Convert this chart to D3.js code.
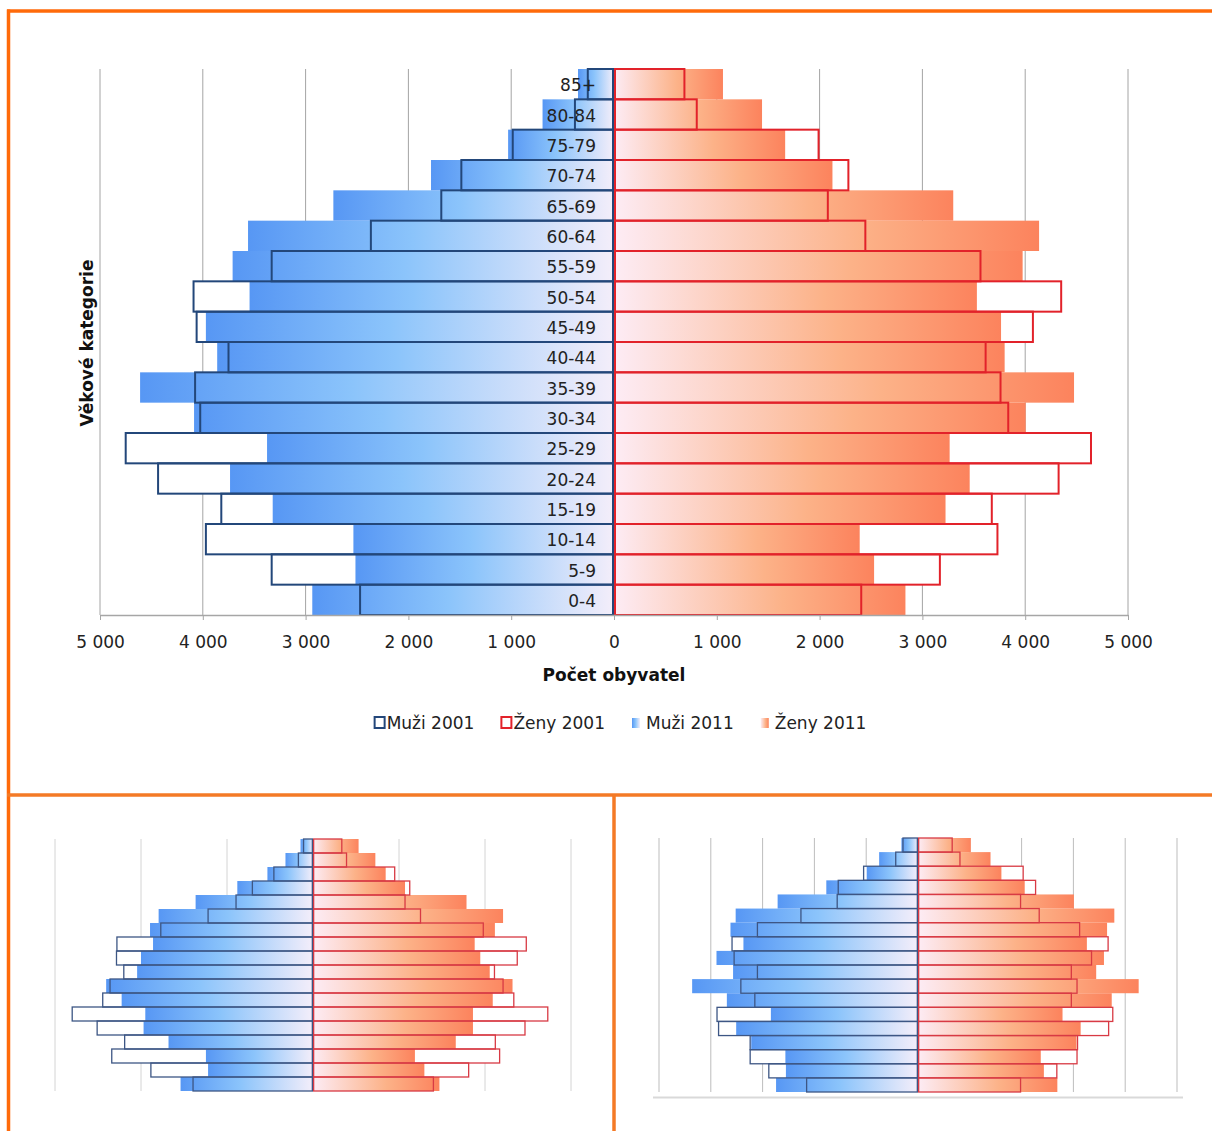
<!DOCTYPE html>
<html><head><meta charset="utf-8">
<script src="https://cdn.jsdelivr.net/npm/d3@7"></script>
<style>body{margin:0;background:#fff}svg{display:block}</style>
</head><body><svg id="c" width="1212" height="1131"></svg>
<script>
// ---------- DATA (listed from the youngest group 0-4 up to 85+) ----------
const ageGroups = ["0-4","5-9","10-14","15-19","20-24","25-29","30-34","35-39","40-44","45-49","50-54","55-59","60-64","65-69","70-74","75-79","80-84","85+"];
const tickValues = [-5000,-4000,-3000,-2000,-1000,0,1000,2000,3000,4000,5000];

// main chart
const men2001   = [2470,3330,3970,3820,4435,4750,4025,4075,3750,4060,4090,3330,2365,1680,1485,985,380,255];
const men2011   = [2935,2515,2535,3320,3735,3375,4085,4610,3860,3970,3545,3710,3560,2730,1780,1030,695,350];
const women2001 = [2405,3170,3730,3675,4325,4640,3835,3760,3615,4075,4350,3565,2445,2080,2280,1990,805,685];
const women2011 = [2835,2530,2390,3225,3460,3265,4005,4475,3800,3765,3530,3975,4135,3300,2125,1665,1440,1060];

// small left chart
const menA2001   = [1395,1885,2340,2190,2510,2800,2445,2360,2200,2285,2280,1770,1220,895,705,455,170,110];
const menA2011   = [1540,1220,1245,1680,1970,1950,2225,2405,2045,2000,1860,1895,1795,1365,880,530,320,145];
const womenA2001 = [1400,1810,2170,2120,2465,2730,2335,2210,2110,2375,2480,1980,1250,1070,1125,950,390,335];
const womenA2011 = [1470,1295,1185,1660,1860,1860,2090,2320,2055,1945,1880,2115,2210,1785,1070,845,725,530];
const ticksA = [-3000,-2000,-1000,0,1000,2000,3000];

// small right chart
const menB2001   = [215,288,324,324,385,388,315,342,310,355,359,310,226,156,154,105,43,29];
const menB2011   = [274,255,256,322,351,284,369,436,357,389,337,362,352,271,177,99,75,32];
const womenB2001 = [198,268,307,308,368,376,296,307,296,335,367,312,234,198,227,203,81,66];
const womenB2011 = [269,243,237,306,314,279,374,426,344,359,326,365,379,301,206,161,140,102];
const ticksB = [-500,-400,-300,-200,-100,0,100,200,300,400,500];

const legendLabels = ["Muži 2001","Ženy 2001","Muži 2011","Ženy 2011"];
const axisTitleX = "Počet obyvatel";
const axisTitleY = "Věkové kategorie";

// ---------- DRAWING ----------
const svg = d3.select("#c");
const FONT = "'DejaVu Sans', Verdana, sans-serif";
const defs = svg.append("defs");
const gM = defs.append("linearGradient").attr("id","gM").attr("x1",0).attr("x2",1).attr("y1",0).attr("y2",0);
[[0,"#5797f4"],[0.45,"#8bc4fb"],[1,"#f4eefa"]].forEach(s=>gM.append("stop").attr("offset",s[0]).attr("stop-color",s[1]));
const gF = defs.append("linearGradient").attr("id","gF").attr("x1",0).attr("x2",1).attr("y1",0).attr("y2",0);
[[0,"#fdecf5"],[0.58,"#fcb288"],[1,"#fc835d"]].forEach(s=>gF.append("stop").attr("offset",s[0]).attr("stop-color",s[1]));

const fmt = d3.formatLocale({decimal:",", thousands:"\u00a0", grouping:[3], currency:["","\u00a0Kč"]}).format(",d");

function pyramid(g, o) {
  const x = o.x, y = o.y, x0 = x(0);
  const rows = ageGroups.map((a,i)=>({a, m01:o.m01[i], m11:o.m11[i], f01:o.f01[i], f11:o.f11[i]}));
  // gridlines
  g.append("g").selectAll("line").data(o.ticks).join("line")
    .attr("x1",d=>x(d)).attr("x2",d=>x(d))
    .attr("y1",y.range()[0]).attr("y2",y.range()[1])
    .attr("stroke",o.grid).attr("stroke-width",1);
  // 2001 white backgrounds
  const bg = g.append("g");
  bg.selectAll(".mw").data(rows).join("rect")
    .attr("x",d=>x(-d.m01)).attr("width",d=>x0-x(-d.m01))
    .attr("y",d=>y(d.a)).attr("height",y.bandwidth()).attr("fill","#fff");
  bg.selectAll(".fw").data(rows).join("rect")
    .attr("x",x0).attr("width",d=>x(d.f01)-x0)
    .attr("y",d=>y(d.a)).attr("height",y.bandwidth()).attr("fill","#fff");
  // 2011 gradient bars
  const b11 = g.append("g");
  b11.selectAll(".m").data(rows).join("rect")
    .attr("x",d=>x(-d.m11)).attr("width",d=>x0-x(-d.m11))
    .attr("y",d=>y(d.a)).attr("height",y.bandwidth()).attr("fill","url(#gM)");
  b11.selectAll(".f").data(rows).join("rect")
    .attr("x",x0).attr("width",d=>x(d.f11)-x0)
    .attr("y",d=>y(d.a)).attr("height",y.bandwidth()).attr("fill","url(#gF)");
  // 2001 outlines
  const h = o.sw/2;
  const ol = g.append("g").attr("fill","none");
  ol.selectAll(".mo").data(rows).join("rect")
    .attr("x",d=>x(-d.m01)).attr("width",d=>x0-h-x(-d.m01))
    .attr("y",d=>y(d.a)).attr("height",y.bandwidth())
    .attr("stroke",o.navy).attr("stroke-width",o.sw);
  ol.selectAll(".fo").data(rows).join("rect")
    .attr("x",x0+h).attr("width",d=>x(d.f01)-x0-h)
    .attr("y",d=>y(d.a)).attr("height",y.bandwidth())
    .attr("stroke",o.red).attr("stroke-width",o.sw);
  return rows;
}

// main chart
const xMain = d3.scaleLinear().domain([-5000,5000]).range([100,1128]);
const yMain = d3.scaleBand().domain(ageGroups.slice().reverse()).range([69,615]).padding(0);
const gMain = svg.append("g");
pyramid(gMain, {x:xMain, y:yMain, m01:men2001, m11:men2011, f01:women2001, f11:women2011,
  ticks:tickValues, grid:"#a4a4a4", sw:2, navy:"#23477a", red:"#e2222a"});

// category labels
gMain.append("g").selectAll("text").data(ageGroups).join("text")
  .attr("x",596).attr("y",d=>yMain(d)+yMain.bandwidth()/2+1).attr("dy","0.36em")
  .attr("text-anchor","end").attr("font-family",FONT).attr("font-size",17).attr("fill","#222")
  .text(d=>d);

// x axis
const ax = gMain.append("g").attr("transform","translate(0,615)")
  .call(d3.axisBottom(xMain).tickValues(tickValues).tickSize(5).tickSizeOuter(0).tickPadding(16)
    .tickFormat(d=>fmt(Math.abs(d))));
ax.select(".domain").attr("stroke","#a6a6a6").attr("stroke-width",1.5);
ax.selectAll(".tick line").attr("stroke","#a6a6a6");
ax.selectAll(".tick text").attr("font-family",FONT).attr("font-size",17).attr("fill","#222");

// axis titles
svg.append("text").attr("x",614).attr("y",681).attr("text-anchor","middle")
  .attr("font-family",FONT).attr("font-weight","bold").attr("font-size",17).attr("fill","#111").text(axisTitleX);
svg.append("text").attr("transform","translate(93,343) rotate(-90)").attr("text-anchor","middle")
  .attr("font-family",FONT).attr("font-weight","bold").attr("font-size",17).attr("fill","#111").text(axisTitleY);

// legend
const lg = svg.append("g");
const items = legendLabels.map((t,i)=>({t, i}));
let cx = 0;
const lgItems = lg.selectAll("g").data(items).join("g");
lgItems.each(function(d){
  const s = d3.select(this);
  if (d.i < 2) {
    s.append("rect").attr("x",1).attr("y",-6).attr("width",10).attr("height",11)
      .attr("fill","#fff").attr("stroke",d.i===0?"#23477a":"#e2222a").attr("stroke-width",2);
  } else {
    s.append("rect").attr("x",1).attr("y",-5).attr("width",8).attr("height",10)
      .attr("fill",d.i===2?"url(#gM)":"url(#gF)");
  }
  const tx = d.i < 2 ? 13 : 15;
  const t = s.append("text").attr("x",tx).attr("y",0).attr("dy","0.36em")
    .attr("font-family",FONT).attr("font-size",17).attr("fill","#222").text(d.t);
  d.w = tx + t.node().getComputedTextLength();
});
items.forEach(d=>{d.x = cx; cx += d.w + 26;});
const total = cx - 26;
lgItems.attr("transform",d=>`translate(${620 - total/2 + d.x},723)`);

// small left
const xA = d3.scaleLinear().domain([-3000,3000]).range([55,571]);
const yA = d3.scaleBand().domain(ageGroups.slice().reverse()).range([839,1091]).padding(0);
pyramid(svg.append("g"), {x:xA, y:yA, m01:menA2001, m11:menA2011, f01:womenA2001, f11:womenA2011,
  ticks:ticksA, grid:"#d4d4d4", sw:1.3, navy:"#3d5684", red:"#d83a44"});

// small right
const xB = d3.scaleLinear().domain([-500,500]).range([659,1177]);
const yB = d3.scaleBand().domain(ageGroups.slice().reverse()).range([838,1092]).padding(0);
const gB = svg.append("g");
pyramid(gB, {x:xB, y:yB, m01:menB2001, m11:menB2011, f01:womenB2001, f11:womenB2011,
  ticks:ticksB, grid:"#bdbdbd", sw:1.3, navy:"#3d5684", red:"#d83a44"});
gB.append("line").attr("x1",xB.range()[0]-6).attr("x2",xB.range()[1]+6)
  .attr("y1",1097.5).attr("y2",1097.5).attr("stroke","#d9d9d9").attr("stroke-width",2);

// orange frames
const frame = svg.append("g").attr("stroke","#ff6a0a").attr("stroke-width",3.5).attr("fill","none");
frame.append("line").attr("x1",7).attr("x2",1212).attr("y1",11).attr("y2",11);
frame.append("line").attr("x1",8.5).attr("x2",8.5).attr("y1",9.5).attr("y2",1131);
frame.append("line").attr("x1",7).attr("x2",1212).attr("y1",795).attr("y2",795).attr("stroke","#f47a26");
frame.append("line").attr("x1",614).attr("x2",614).attr("y1",795).attr("y2",1131).attr("stroke","#f47a26");
</script></body></html>
